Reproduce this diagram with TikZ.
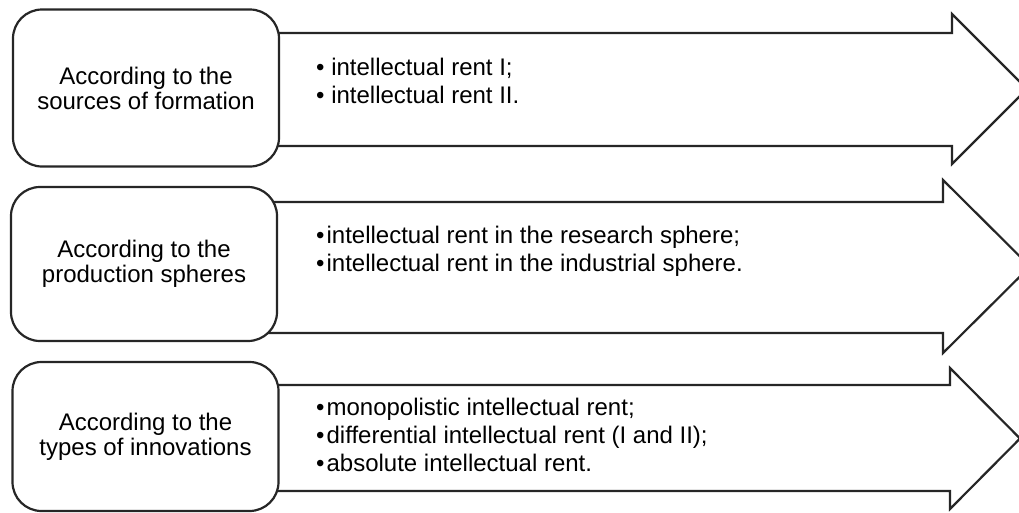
\documentclass[tikz,border=0pt]{standalone}
\usepackage{fontspec}
\setmainfont{Liberation Sans}
\usetikzlibrary{positioning}

\begin{document}
\begin{tikzpicture}[x=1pt,y=-1pt,
criterion/.style={draw=black!85,line width=2.2pt,rounded corners=29pt,fill=white,align=center,minimum width=266pt,inner sep=0pt,font=\fontsize{24}{25}\selectfont},
bigarrow/.style={draw=black!85,line width=2.2pt,fill=white,line join=miter},
items/.style={anchor=north west,align=left,inner sep=0pt,font=\fontsize{24}{28}\selectfont}]
\useasboundingbox (0,0) rectangle (1019,512);
\clip (0,0) rectangle (1019,512);
% arrows behind the boxes
\draw[bigarrow] (260,33) -- (952,33) -- (952,14) -- (1027,89) -- (952,164) -- (952,146) -- (260,146) -- cycle;
\draw[bigarrow] (260,202) -- (943,202) -- (943,180) -- (1030,266.5) -- (943,353) -- (943,333) -- (260,333) -- cycle;
\draw[bigarrow] (260,385) -- (950,385) -- (950,368) -- (1020,438.5) -- (950,509) -- (950,491) -- (260,491) -- cycle;
% criteria
\node[criterion,minimum height=157pt](sources) at (146,88){According to the\\sources of formation};
\node[criterion,minimum height=154pt](spheres) at (144,264){According to the\\production spheres};
\node[criterion,minimum height=149pt](innovations) at (145.5,436.5){According to the\\types of innovations};
% kinds of rent
\node[items](sourcesitems) at (316,57.5){• intellectual rent I;\\• intellectual rent II.};
\node[items](spheresitems) at (316,225.5){•\kern2pt intellectual rent in the research sphere;\\•\kern2pt intellectual rent in the industrial sphere.};
\node[items](innovationsitems) at (316,397.5){•\kern2pt monopolistic intellectual rent;\\•\kern2pt differential intellectual rent (I and II);\\•\kern2pt absolute intellectual rent.};
\end{tikzpicture}
\end{document}
